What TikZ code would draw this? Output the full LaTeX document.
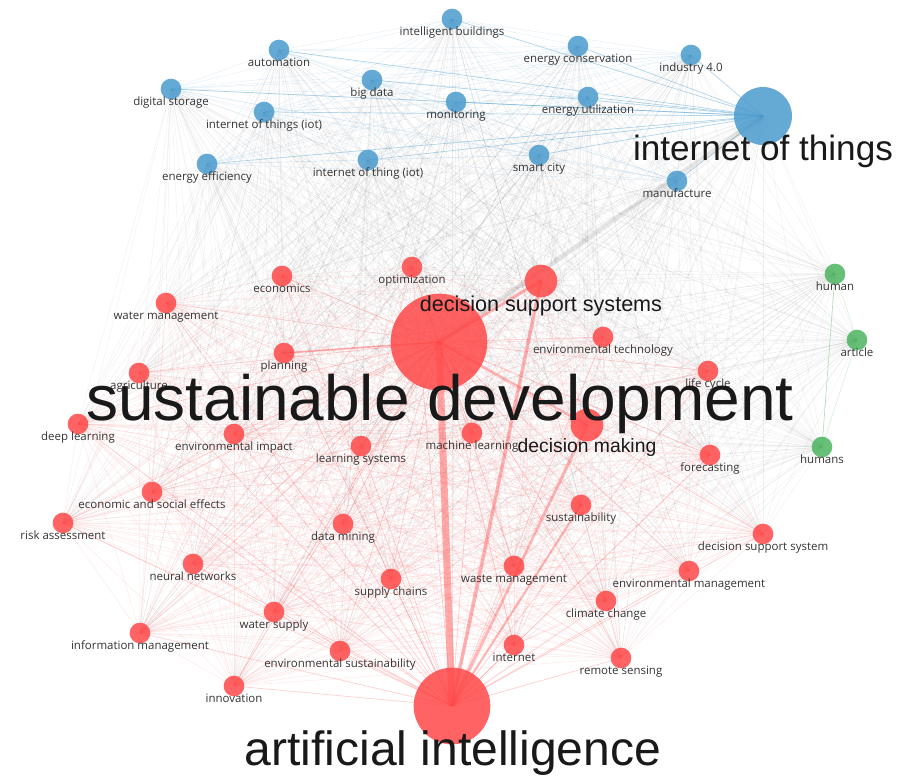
\documentclass[tikz,border=0pt]{standalone}
\usepackage{fontspec}
\setmainfont{Liberation Sans}
\newfontfamily\lblfont{Open Sans}
\usetikzlibrary{backgrounds}
\definecolor{kwblue}{RGB}{74,155,206}
\definecolor{kwred}{RGB}{255,72,72}
\definecolor{kwgreen}{RGB}{76,180,96}
\begin{document}
\begin{tikzpicture}[x=0.03cm,y=-0.03cm,
    kw/.style={circle,inner sep=0pt,minimum size=0.62cm,fill opacity=0.85,draw=none},
    kwlbl/.style={anchor=base,inner sep=0pt,font=\lblfont\fontsize{9.8}{11}\selectfont,text=black!80},
    biglbl/.style={anchor=base,inner sep=0pt,text=black!90},
    greylink/.style={black,opacity=0.06,line width=0.4pt},
    redlink/.style={kwred,opacity=0.13,line width=0.4pt},
    hublink/.style={kwred,opacity=0.18,line width=0.6pt},
    bluelink/.style={kwblue,opacity=0.15,line width=0.4pt},
    greenlink/.style={kwgreen,opacity=0.4,line width=0.6pt}]

    \useasboundingbox (0,0) rectangle (899,776);

    % Blue cluster
    \foreach \x/\y/\t [count=\i] in {452/19/intelligent buildings, 279/50/automation,
        578/46/energy conservation, 691/55/industry 4.0, 171/89/digital storage,
        372/80/big data, 264/112/internet of things (iot), 456/102/monitoring,
        588/97/energy utilization, 207/164/energy efficiency,
        368/160/internet of thing (iot), 539/155/smart city, 677/181/manufacture}
    {
        \node[kw,fill=kwblue] (b\i) at (\x,\y) {};
        \node[kwlbl] (b\i-l) at (\x,\y+16.5) {\t};
    }
    \node[kw,fill=kwblue,minimum size=1.74cm,alias=iot] (b14) at (763,116) {};

    % Green cluster
    \foreach \x/\y/\t [count=\i] in {835/274/human, 857/340/article, 822/447/humans}
    {
        \node[kw,fill=kwgreen] (g\i) at (\x,\y) {};
        \node[kwlbl] (g\i-l) at (\x,\y+16.5) {\t};
    }

    % Red cluster
    \foreach \x/\y/\t [count=\i] in {412/267/optimization, 282/276/economics,
        166/303/water management, 603/337/environmental technology, 284/353/planning,
        139/373/agriculture, 708/371/life cycle, 78/424/deep learning,
        234/434/environmental impact, 472/433/machine learning,
        361/446/learning systems, 710/455/forecasting,
        152/492/economic and social effects, 581/505/sustainability,
        63/523/risk assessment, 343/524/data mining, 763/534/decision support system,
        193/564/neural networks, 514/566/waste management,
        689/571/environmental management, 391/579/supply chains,
        606/601/climate change, 274/612/water supply, 140/633/information management,
        340/651/environmental sustainability, 514/645/internet,
        621/658/remote sensing, 234/686/innovation}
    {
        \node[kw,fill=kwred] (r\i) at (\x,\y) {};
        \node[kwlbl] (r\i-l) at (\x,\y+16.5) {\t};
    }
    \node[kw,fill=kwred,minimum size=2.9cm,alias=sd] (r29) at (439,342) {};
    \node[kw,fill=kwred,minimum size=2.3cm,alias=ai] (r30) at (452,706) {};
    \node[kw,fill=kwred,minimum size=0.98cm,alias=dss] (r31) at (541,281) {};
    \node[kw,fill=kwred,minimum size=0.98cm,alias=dm] (r32) at (587,425) {};

    % Large labels
    \node[biglbl,font=\fontsize{30}{34}\selectfont] (iot-l) at (763,160) {internet of things};
    \node[biglbl,font=\fontsize{18.4}{21}\selectfont] (dss-l) at (541,311) {decision support systems};
    \node[biglbl,font=\fontsize{16.5}{19}\selectfont] (dm-l) at (587,452) {decision making};
    \node[biglbl,font=\fontsize{54.6}{60}\selectfont] (sd-l) at (440,420) {sustainable development};
    \node[biglbl,font=\fontsize{41}{46}\selectfont] (ai-l) at (453,765) {artificial intelligence};

    \begin{scope}[on background layer]
        % links between clusters
        \foreach \i in {1,...,32} {
            \foreach \j in {1,...,14} \draw[greylink] (r\i.center) -- (b\j.center);
            \foreach \j in {1,2,3} \draw[greylink] (r\i.center) -- (g\j.center);
        }
        \foreach \i in {1,...,14}
            \foreach \j in {1,2,3} \draw[greylink] (b\i.center) -- (g\j.center);

        % links inside clusters
        \foreach \i in {1,...,31} {
            \pgfmathtruncatemacro\k{\i+1}
            \foreach \j in {\k,...,32} \draw[redlink] (r\i.center) -- (r\j.center);
        }
        \foreach \i in {1,...,28} {
            \draw[hublink] (sd.center) -- (r\i.center);
            \draw[hublink] (ai.center) -- (r\i.center);
        }
        \foreach \i in {1,...,13} {
            \pgfmathtruncatemacro\k{\i+1}
            \foreach \j in {\k,...,14} \draw[bluelink] (b\i.center) -- (b\j.center);
            \draw[kwblue,opacity=0.35,line width=0.6pt] (iot.center) -- (b\i.center);
        }
        \draw[greenlink] (g1.center) -- (g3.center);
        \draw[greenlink,opacity=0.2] (g1.center) -- (g2.center) -- (g3.center);

        % strongest links
        \draw[kwred,opacity=0.45,line width=6pt] (sd.center) -- (ai.center);
        \draw[black,opacity=0.09,line width=4pt] (sd.center) -- (iot.center);
        \draw[kwred,opacity=0.4,line width=3pt] (ai.center) -- (dss.center);
        \draw[kwred,opacity=0.35,line width=2.5pt] (ai.center) -- (dm.center);
        \draw[kwred,opacity=0.3,line width=2pt] (ai.center) -- (r14.center);
        \draw[kwred,opacity=0.4,line width=2.5pt] (sd.center) -- (dss.center);
        \draw[kwred,opacity=0.35,line width=2pt] (sd.center) -- (dm.center);
        \draw[kwred,opacity=0.35,line width=1.5pt] (sd.center) -- (r5.center);
    \end{scope}
\end{tikzpicture}
\end{document}
